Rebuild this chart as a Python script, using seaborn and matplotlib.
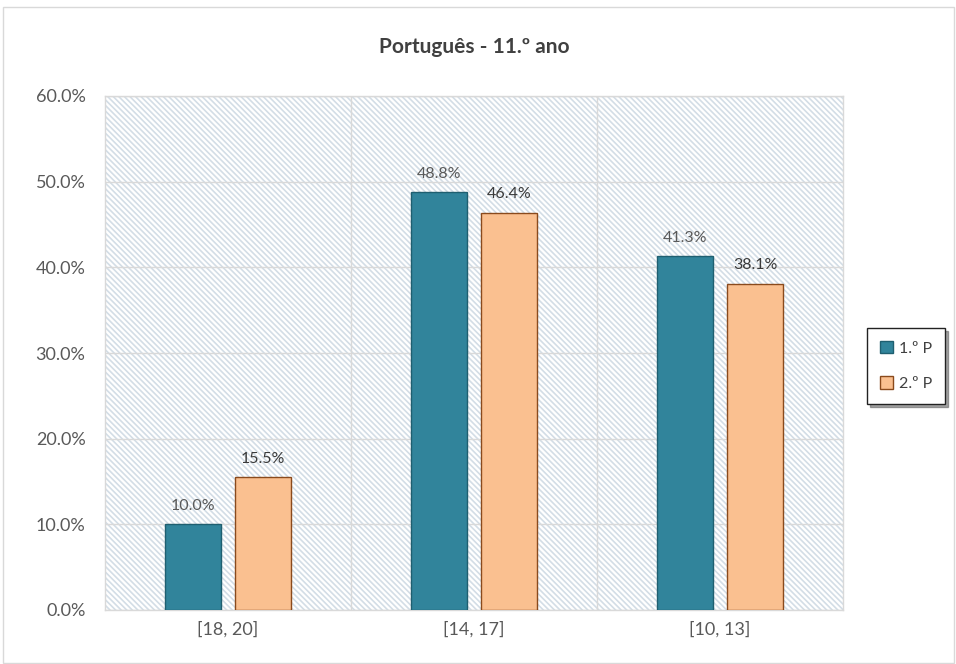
import matplotlib
matplotlib.use("Agg")
import matplotlib.pyplot as plt
from matplotlib.patches import Rectangle, Patch
from matplotlib.ticker import FixedLocator, FuncFormatter
import pandas as pd
import seaborn as sns

# Grade bands and the share of students in each, per period
categories = ["[18, 20]", "[14, 17]", "[10, 13]"]
periods = ["1.º P", "2.º P"]
p1_values = [10.0, 48.8, 41.3]
p2_values = [15.5, 46.4, 38.1]
title = "Português - 11.º ano"

df = pd.DataFrame({
    "banda": categories * 2,
    "periodo": [periods[0]] * 3 + [periods[1]] * 3,
    "valor": p1_values + p2_values,
})

sns.set_theme(style="white")
plt.rcParams["font.family"] = ["Lato", "DejaVu Sans"]
plt.rcParams["hatch.linewidth"] = 1.2
plt.rcParams["hatch.color"] = "#d3dde6"

fill_colors = {periods[0]: "#31849b", periods[1]: "#fac090"}
edge_colors = {periods[0]: "#1f5f70", periods[1]: "#8a4a1c"}
label_colors = {periods[0]: "#595959", periods[1]: "#3a3a3a"}

fig = plt.figure(figsize=(9.56, 6.64), dpi=100)
fig.patch.set_facecolor("white")
fig.patches.append(Rectangle((3 / 956, 1 / 664), 951 / 956, 656 / 664,
                             transform=fig.transFigure, fill=False,
                             edgecolor="#d9d9d9", linewidth=1.0))

ax = fig.add_axes([105 / 956, 54 / 664, 738 / 956, 514 / 664])

# hatched plot-area background
ax.add_patch(Rectangle((0, 0), 1, 1, transform=ax.transAxes,
                       facecolor="white", edgecolor="#d3dde6",
                       hatch="\\" * 6, linewidth=0, zorder=0))

sns.barplot(data=df, x="banda", y="valor", hue="periodo",
            order=categories, hue_order=periods,
            palette=fill_colors, saturation=1, width=0.57, gap=0.2,
            ax=ax, zorder=3, legend=False)

for container, per in zip(ax.containers, periods):
    for bar in container:
        bar.set_edgecolor(edge_colors[per])
        bar.set_linewidth(1.0)
    ax.bar_label(container, fmt="%.1f%%", padding=8, fontsize=11.5,
                 color=label_colors[per])

ax.set_ylim(0, 60)
ax.set_xlim(-0.5, 2.5)
ax.yaxis.set_major_locator(FixedLocator([0, 10, 20, 30, 40, 50, 60]))
ax.yaxis.set_major_formatter(FuncFormatter(lambda v, _: f"{v:.1f}%"))
ax.xaxis.set_minor_locator(FixedLocator([0.5, 1.5]))
ax.grid(axis="y", which="major", color="#d9d9d9", linewidth=1.0, zorder=1)
ax.grid(axis="x", which="minor", color="#d9d9d9", linewidth=1.0, zorder=1)
ax.set_axisbelow(True)
ax.set_xlabel("")
ax.set_ylabel("")
ax.tick_params(axis="both", which="both", length=0, labelsize=13,
               labelcolor="#595959")
ax.tick_params(axis="y", pad=14)
ax.tick_params(axis="x", pad=8)
for side, sp in ax.spines.items():
    sp.set_color("#d9d9d9")
    sp.set_linewidth(1.0)

fig.text(474 / 956, 1 - 47 / 664, title, ha="center", va="center",
         fontsize=15, fontweight="bold", color="#404040")

handles = [Patch(facecolor=fill_colors[p], edgecolor=edge_colors[p]) for p in periods]
leg = fig.legend(handles, periods, loc="center", bbox_to_anchor=(906 / 956, 1 - 366 / 664),
                 frameon=True, shadow=True, fancybox=False, fontsize=11.5,
                 handlelength=0.8, handleheight=0.8, handletextpad=0.4,
                 labelspacing=1.3, borderpad=0.8, labelcolor="#404040")
leg.get_frame().set_edgecolor("#222222")
leg.get_frame().set_linewidth(1.0)

fig.savefig("out.png", dpi=100)
